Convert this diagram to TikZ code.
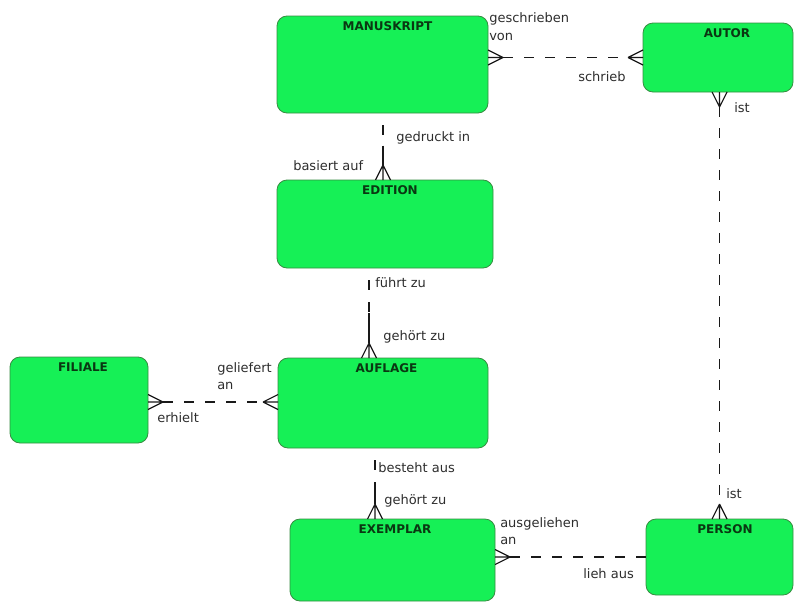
\documentclass[tikz,border=0pt]{standalone}
\usepackage{fontspec}
\setmainfont{DejaVu Sans}
\usetikzlibrary{calc}
\definecolor{entfill}{RGB}{22,240,86}
\definecolor{entline}{RGB}{55,140,65}
\definecolor{enttext}{RGB}{10,55,18}
\definecolor{reltext}{RGB}{45,45,45}
\begin{document}
\begin{tikzpicture}[x=0.75pt,y=-0.75pt,
  entity/.style={draw=entline, fill=entfill, line width=0.6pt, rounded corners=7.5pt,
    anchor=north west, outer sep=0pt, inner sep=0pt},
  title/.style={anchor=base, font=\fontsize{9}{10}\selectfont\bfseries, text=enttext, inner sep=0pt},
  rel/.style={anchor=base west, font=\fontsize{9.75}{12}\selectfont, text=reltext, inner sep=0pt},
  link/.style={draw=black!90, line width=0.85pt},
  opt/.style={link, dash pattern=on 7.5pt off 8.25pt},
  half/.style={link, dash pattern=on 7.5pt off 9pt, dash phase=7.5pt},
  pics/crow/.style={code={
    \draw[link] (0,-7.5) -- (15,0) (0,0) -- (15,0) (0,7.5) -- (15,0);
    \coordinate (-tip) at (15,0);}}
]
\useasboundingbox (0,0) rectangle (795,603);

% entities
\node[entity, minimum width=158.25pt, minimum height=72.75pt] (man) at (277,16) {};
\node[entity, minimum width=112.5pt,  minimum height=51.75pt] (aut) at (643,23) {};
\node[entity, minimum width=162pt,    minimum height=66pt]    (edi) at (277,180) {};
\node[entity, minimum width=103.5pt,  minimum height=64.5pt]  (fil) at (10,357) {};
\node[entity, minimum width=157.5pt,  minimum height=67.5pt]  (auf) at (278,358) {};
\node[entity, minimum width=153.75pt, minimum height=61.5pt]  (exe) at (290,519) {};
\node[entity, minimum width=110.25pt, minimum height=57pt]    (per) at (646,519) {};

% entity titles
\node[title] (t-man) at ($(man.north)+(5,14)$) {MANUSKRIPT};
\node[title] (t-aut) at ($(aut.north)+(9,14)$) {AUTOR};
\node[title] (t-edi) at ($(edi.north)+(5,14)$) {EDITION};
\node[title] (t-fil) at ($(fil.north)+(4,14)$) {FILIALE};
\node[title] (t-auf) at ($(auf.north)+(3.5,14)$) {AUFLAGE};
\node[title] (t-exe) at ($(exe.north)+(2.5,14)$) {EXEMPLAR};
\node[title] (t-per) at ($(per.north)+(5.5,14)$) {PERSON};

% MANUSKRIPT -- AUTOR
\pic[rotate=0]   (f1) at (man.east |- aut.west) {crow};
\pic[rotate=180] (f2) at (aut.west) {crow};
\draw[opt] (f1-tip) -- (f2-tip);

% MANUSKRIPT -- EDITION
\pic[rotate=90] (f3) at ($(edi.north)+(-2,0)$) {crow};
\coordinate (c2a) at (man.south -| f3-tip);
\coordinate (c2m) at ($(c2a)!0.5!(f3-tip)+(0,6.5)$);
\draw[half] (c2a) -- (c2m);
\draw[link] (c2m) -- (f3-tip);

% EDITION -- AUFLAGE
\pic[rotate=90] (f4) at ($(auf.north)+(-14,0)$) {crow};
\coordinate (c3a) at (edi.south -| f4-tip);
\coordinate (c3m) at ($(c3a)!0.5!(f4-tip)+(0,7.5)$);
\draw[half] (c3a) -- (c3m);
\draw[link] (c3m) -- (f4-tip);

% AUFLAGE -- EXEMPLAR
\pic[rotate=90] (f5) at ($(exe.north)+(-17.5,0)$) {crow};
\coordinate (c4a) at (auf.south -| f5-tip);
\coordinate (c4m) at ($(c4a)!0.5!(f5-tip)+(0,7.5)$);
\draw[half] (c4a) -- (c4m);
\draw[link] (c4m) -- (f5-tip);

% FILIALE -- AUFLAGE
\pic[rotate=0]   (f6) at ($(fil.east)+(0,2)$) {crow};
\pic[rotate=180] (f7) at ($(auf.west)+(0,-1)$) {crow};
\draw[opt] (f6-tip) -- (f7-tip);

% EXEMPLAR -- PERSON
\pic[rotate=0] (f8) at (exe.east |- per.west) {crow};
\draw[opt] (f8-tip) -- (per.west);

% AUTOR -- PERSON
\pic[rotate=-90] (f9)  at ($(aut.south)+(1.5,0)$) {crow};
\pic[rotate=90]  (f10) at (per.north) {crow};
\draw[opt] (f9-tip) -- (f10-tip);

% relationship names
\node[rel] (l1a) at (489,22)  {geschrieben};
\node[rel] (l1b) at (489,40)  {von};
\node[rel] (l2)  at (578,81)  {schrieb};
\node[rel] (l3)  at (734,112) {ist};
\node[rel] (l4)  at (396,141) {gedruckt in};
\node[rel] (l5)  at (293,170) {basiert auf};
\node[rel] (l6)  at (375,287) {führt zu};
\node[rel] (l7)  at (383,340) {gehört zu};
\node[rel] (l8a) at (217,372) {geliefert};
\node[rel] (l8b) at (217,389) {an};
\node[rel] (l9)  at (157,422) {erhielt};
\node[rel] (l10) at (378,472) {besteht aus};
\node[rel] (l11) at (384,504) {gehört zu};
\node[rel] (l12a) at (500,527) {ausgeliehen};
\node[rel] (l12b) at (500,544) {an};
\node[rel] (l13) at (583,578) {lieh aus};
\node[rel] (l14) at (726,498) {ist};
\end{tikzpicture}
\end{document}
